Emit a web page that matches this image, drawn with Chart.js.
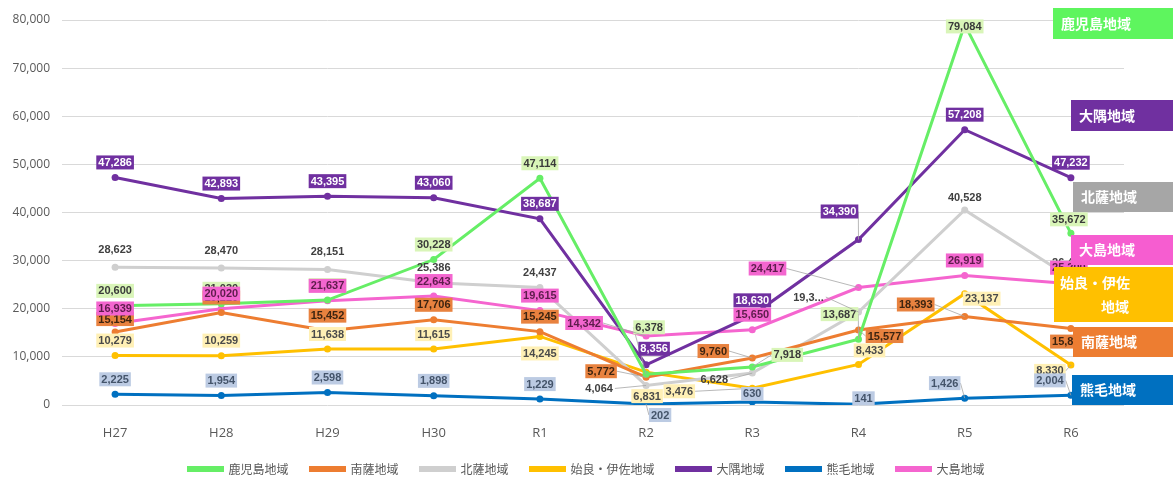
<!DOCTYPE html>
<html>
<head>
<meta charset="utf-8">
<script src="https://cdn.jsdelivr.net/npm/chart.js@4.4.0/dist/chart.umd.min.js"></script>
<style>
  html, body { margin: 0; padding: 0; background: #fff; }
  .wrap { width: 1173px; height: 479px; position: relative; }
</style>
</head>
<body>
<div class="wrap"><canvas class="region-chart"></canvas></div>
<script>
const years = ['H27', 'H28', 'H29', 'H30', 'R1', 'R2', 'R3', 'R4', 'R5', 'R6'];

const kagoshima = [20600, 21030, 21800, 30228, 47114, 6378, 7918, 13687, 79084, 35672];
const nansatsu  = [15154, 19220, 15452, 17706, 15245, 5772, 9760, 15577, 18393, 15879];
const hokusatsu = [28623, 28470, 28151, 25386, 24437, 4064, 6628, 19318, 40528, 26400];
const airaIsa   = [10279, 10259, 11638, 11615, 14245, 6831, 3476, 8433, 23137, 8330];
const osumi     = [47286, 42893, 43395, 43060, 38687, 8356, 18630, 34390, 57208, 47232];
const kumage    = [2225, 1954, 2598, 1898, 1229, 202, 630, 141, 1426, 2004];
const oshima    = [16939, 20020, 21637, 22643, 19615, 14342, 15650, 24417, 26919, 25200];

const yMax = 80000;
const yStep = 10000;

const ctx = document.querySelector('.region-chart');

// label look per series: box colour, text colour
const labelStyle = [
    { bg: '#d9f5b8', fg: '#3a3a3a' },
    { bg: '#e8823f', fg: '#3d2410' },
    { bg: null,      fg: '#404040' },
    { bg: '#fff0b5', fg: '#4a4a4a' },
    { bg: '#7030a0', fg: '#ffffff' },
    { bg: '#bccbe3', fg: '#44546a' },
    { bg: '#f366cf', fg: '#5e1c4c' }
];

// label nudges [dx, dy, leader line] keyed "series-point"
const nudge = {
    '0-5': [3, -47, true], '0-6': [35, -12, true], '0-7': [-19, -25, true], '0-8': [0, 2], '0-9': [-2, -14],
    '1-0': [0, -13], '1-5': [-45, -6, true], '1-6': [-39, -7, true], '1-7': [26, 6, true], '1-8': [-49, -12, true], '1-9': [-2, 13],
    '2-0': [0, -18], '2-1': [0, -18], '2-2': [0, -18], '2-5': [-47, 3, true], '2-6': [-38, 6, true], '2-7': [-50, -15, true], '2-8': [0, -12], '2-9': [-2, -15],
    '3-4': [0, 17], '3-5': [1, 24], '3-6': [-73, 3, true], '3-7': [11, -14], '3-8': [17, 5], '3-9': [-21, 6, true],
    '4-5': [8, -16], '4-7': [-19, -28, true],
    '5-5': [14, 11, true], '5-6': [0, -8], '5-7': [5, -6], '5-8': [-20, -15, true], '5-9': [-21, -15, true],
    '6-5': [-62, -13, true], '6-7': [-91, -19, true], '6-9': [-2, -16]
};
const labelText = { '2-7': '19,3...' };

const sideBoxes = [
    { text: ['鹿児島地域'], color: '#5ef55e', x: 1053, y: 8, h: 31 },
    { text: ['大隅地域'], color: '#7030a0', x: 1071, y: 100, h: 31 },
    { text: ['北薩地域'], color: '#a6a6a6', x: 1073, y: 182, h: 30 },
    { text: ['大島地域'], color: '#f65dd0', x: 1071, y: 235, h: 30 },
    { text: ['始良・伊佐', '地域'], color: '#ffc000', x: 1054, y: 267, h: 55 },
    { text: ['南薩地域'], color: '#ed7d31', x: 1073, y: 327, h: 30 },
    { text: ['熊毛地域'], color: '#0070c0', x: 1072, y: 375, h: 30 }
];

const valueLabels = {
    id: 'valueLabels',
    afterDatasetsDraw(chart) {
        const c = chart.ctx;
        c.save();
        c.font = 'bold 11px "Liberation Sans", Arial, sans-serif';
        c.textAlign = 'center';
        c.textBaseline = 'middle';
        chart.data.datasets.forEach((ds, si) => {
            const meta = chart.getDatasetMeta(si);
            const st = labelStyle[si];
            meta.data.forEach((pt, pi) => {
                const key = si + '-' + pi;
                const n = nudge[key] || [0, -15];
                const lx = pt.x + n[0];
                const ly = pt.y + n[1];
                const txt = labelText[key] || ds.data[pi].toLocaleString('en-US');
                const w = c.measureText(txt).width + 4;
                if (n[2]) {
                    c.strokeStyle = '#a6a6a6';
                    c.lineWidth = 0.8;
                    c.beginPath();
                    c.moveTo(lx + (n[0] < 0 ? w / 2 : -w / 2), ly);
                    c.lineTo(pt.x, pt.y);
                    c.stroke();
                }
                if (st.bg) {
                    c.fillStyle = st.bg;
                    c.fillRect(lx - w / 2, ly - 7, w, 14);
                }
                c.fillStyle = st.fg;
                c.fillText(txt, lx, ly + 0.5);
            });
        });
        c.restore();
    },
    afterDraw(chart) {
        const c = chart.ctx;
        c.save();
        // dots on the legend lines
        chart.legend.legendHitBoxes.forEach((box, i) => {
            c.fillStyle = chart.data.datasets[i].borderColor;
            c.beginPath();
            c.arc(box.left + 17, box.top + box.height / 2, 3, 0, Math.PI * 2);
            c.fill();
        });
        // region tags on the right
        c.font = 'bold 14px "Noto Sans CJK JP", sans-serif';
        c.textBaseline = 'middle';
        sideBoxes.forEach(b => {
            c.fillStyle = b.color;
            c.fillRect(b.x, b.y, 1173 - b.x, b.h);
            c.fillStyle = '#ffffff';
            if (b.text.length === 1) {
                c.textAlign = 'left';
                c.fillText(b.text[0], b.x + 8, b.y + b.h / 2);
            } else {
                c.textAlign = 'left';
                c.fillText(b.text[0], b.x + 6, b.y + 16);
                c.textAlign = 'center';
                c.fillText(b.text[1], 1115, b.y + 40);
            }
        });
        c.restore();
    }
};

function series(label, data, color) {
    return {
        label: label,
        data: data,
        borderColor: color,
        backgroundColor: color,
        borderWidth: 3,
        pointRadius: 3.5,
        pointBorderWidth: 0,
        pointBackgroundColor: color,
        tension: 0
    };
}

new Chart(ctx, {
    type: 'line',
    data: {
        labels: years,
        datasets: [
            series('鹿児島地域', kagoshima, '#66ee66'),
            series('南薩地域', nansatsu, '#ed7d31'),
            series('北薩地域', hokusatsu, '#cfcfcf'),
            series('始良・伊佐地域', airaIsa, '#ffc000'),
            series('大隅地域', osumi, '#7030a0'),
            series('熊毛地域', kumage, '#0070c0'),
            series('大島地域', oshima, '#f565cf')
        ]
    },
    options: {
        responsive: true,
        maintainAspectRatio: false,
        animation: false,
        layout: {
            padding: { left: 0, right: 0, top: 20, bottom: -6 }
        },
        scales: {
            x: {
                offset: true,
                grid: { display: false },
                border: { display: false },
                ticks: {
                    color: '#595959',
                    padding: 12,
                    font: { family: '"Open Sans", sans-serif', size: 13 }
                },
                afterFit(s) { s.height = 36; }
            },
            y: {
                min: 0,
                max: yMax,
                border: { display: false },
                grid: { color: '#d9d9d9', lineWidth: 1, drawTicks: false },
                ticks: {
                    stepSize: yStep,
                    color: '#595959',
                    padding: 12,
                    font: { family: '"Open Sans", sans-serif', size: 12 },
                    callback: v => v.toLocaleString('en-US')
                },
                afterFit(s) { s.width = 62; }
            },
            // empty strip on the right where the region tags sit
            side: {
                position: 'right',
                min: 0,
                max: yMax,
                border: { display: false },
                grid: { display: false },
                ticks: { display: false },
                afterFit(s) { s.width = 49; }
            }
        },
        plugins: {
            legend: {
                position: 'bottom',
                labels: {
                    boxWidth: 34,
                    boxHeight: 3,
                    color: '#595959',
                    padding: 22,
                    font: { family: '"Noto Sans CJK JP", sans-serif', size: 12 }
                }
            },
            tooltip: { enabled: false }
        }
    },
    plugins: [valueLabels]
});
</script>
</body>
</html>
